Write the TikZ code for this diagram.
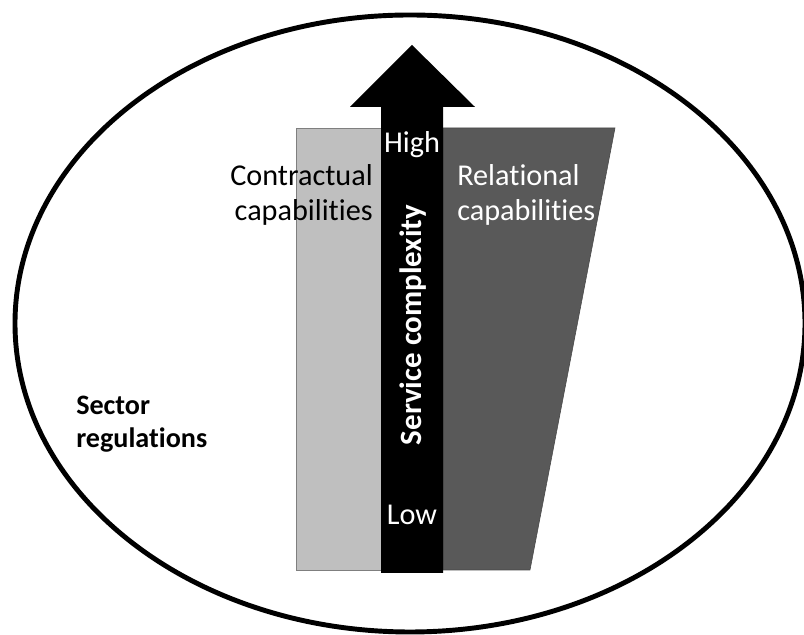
\documentclass[tikz,border=0pt]{standalone}
\usepackage{fontspec}
\setmainfont[Ligatures=NoCommon]{Carlito}
\usepackage{xcolor}
\definecolor{lightbar}{HTML}{BFBFBF}
\definecolor{darkbar}{HTML}{595959}
\definecolor{baredge}{HTML}{7F7F7F}
\tikzset{lbl/.style={inner sep=0pt, font=\fontsize{21.5}{25}\selectfont}}

\begin{document}
\begin{tikzpicture}[x=0.025cm,y=0.025cm]
  \useasboundingbox (0,0) rectangle (804,635);
  \draw[line width=3.5pt] (410,311.5) ellipse [x radius=395, y radius=308.5];
  % capability bars
  \filldraw[fill=lightbar, draw=baredge] (296,65) rectangle (381,507);
  \filldraw[fill=darkbar, draw=darkbar!80!black] (443,507) -- (615,507) -- (530,65) -- (443,65) -- cycle;
  % complexity arrow
  \fill (381,62) -- (381,528) -- (350,528) -- (412,590) -- (475,528) -- (443,528) -- (443,62) -- cycle;
  \node[lbl, white] (high) at (412,490) {High};
  \node[lbl, white] (low) at (412,120) {Low};
  \node[lbl, white, rotate=90, font=\fontsize{22}{25}\selectfont\bfseries] (cplx) at (413,310) {Service complexity};
  \node[lbl, align=right, anchor=east] (contr) at (373,440) {Contractual\\capabilities};
  \node[lbl, white, align=left, anchor=west] (rel) at (457,440) {Relational\\capabilities};
  \node[lbl, align=left, anchor=west, font=\fontsize{20}{23.5}\selectfont\bfseries] (sector) at (76,211) {Sector\\regulations};
\end{tikzpicture}
\end{document}
